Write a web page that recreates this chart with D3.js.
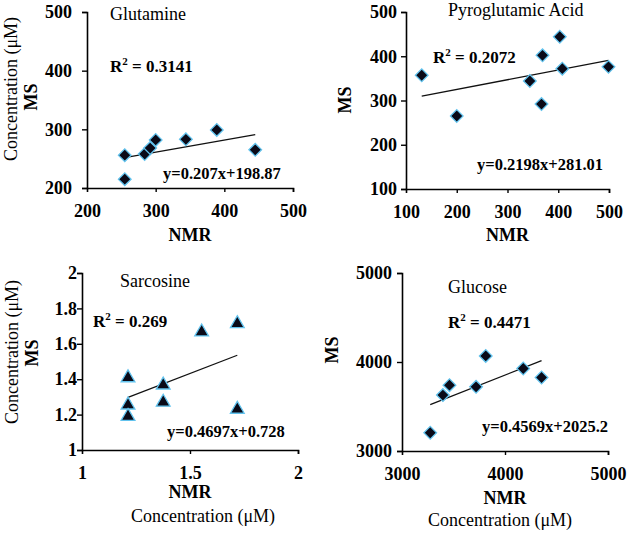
<!DOCTYPE html>
<html><head><meta charset="utf-8">
<script src="https://cdn.jsdelivr.net/npm/d3@7/dist/d3.min.js"></script>
<style>
html,body{margin:0;padding:0;background:#fff;}
svg{display:block;font-family:"Liberation Serif","Times New Roman",serif;}
</style></head>
<body><svg id="c" width="630" height="533"></svg>
<script>
// ---------- data ----------
const panelTitles = ["Glutamine", "Pyroglutamic Acid", "Sarcosine", "Glucose"];
const glutamineNMR = [255, 255, 284, 292, 300, 344, 389, 445];
const glutamineMS  = [256, 215, 258, 268, 282, 283, 299, 265];
const pyroNMR = [131, 200, 344, 367, 369, 403, 408, 499];
const pyroMS  = [357, 265, 344, 292, 402, 444, 372, 376];
const sarcosineNMR = [1.213, 1.213, 1.213, 1.376, 1.376, 1.554, 1.719, 1.719];
const sarcosineMS  = [1.408, 1.254, 1.190, 1.367, 1.270, 1.667, 1.714, 1.230];
const glucoseNMR = [3274, 3397, 3461, 3719, 3813, 4177, 4355];
const glucoseMS  = [3205, 3628, 3740, 3721, 4068, 3927, 3826];
const fitSlopes = [0.207, 0.2198, 0.4697, 0.4569];
const fitIntercepts = [198.87, 281.01, 0.728, 2025.2];
const rSquared = ["0.3141", "0.2072", "0.269", "0.4471"];
const equations = ["y=0.207x+198.87", "y=0.2198x+281.01", "y=0.4697x+0.728", "y=0.4569x+2025.2"];
const xTicks = [[200, 300, 400, 500], [100, 200, 300, 400, 500], [1, 1.5, 2], [3000, 4000, 5000]];
const yTicks = [[200, 300, 400, 500], [100, 200, 300, 400, 500], [1, 1.2, 1.4, 1.6, 1.8, 2], [3000, 4000, 5000]];
const markerShapes = ["diamond", "diamond", "triangle", "diamond"];
const xLabel = "NMR", yLabel = "MS", unitLabel = "Concentration (μM)";

const series = [
  {x: glutamineNMR, y: glutamineMS},
  {x: pyroNMR, y: pyroMS},
  {x: sarcosineNMR, y: sarcosineMS},
  {x: glucoseNMR, y: glucoseMS}
];

// ---------- layout ----------
const layout = [
  {xr:[87,293],  yr:[188,12],  yPad:10, xLblY:241, msX:37,  msY:97,  concV:{x:17,y:89},  concH:null,
   title:[110,20], r2:[110,72], eq:[163,179]},
  {xr:[406,609], yr:[189,12],  yPad:4,  xLblY:241, msX:351, msY:100, concV:null, concH:null,
   title:[448,16], r2:[433,63], eq:[477,170]},
  {xr:[82,298],  yr:[450,273], yPad:0,  xLblY:498, msX:38,  msY:353, concV:{x:18,y:352}, concH:{x:203,y:522},
   title:[120,287], r2:[93,327], eq:[167,437]},
  {xr:[402,608], yr:[451,273], yPad:5,  xLblY:504, msX:338, msY:350, concV:null, concH:{x:500,y:526},
   title:[448,293], r2:[448,328], eq:[482,432]}
];

const svg = d3.select("#c");
const markerFill = "#0a0a18", markerStroke = "#62c3ee";

series.forEach((s, i) => {
  const L = layout[i];
  const xd = d3.extent(xTicks[i]), yd = d3.extent(yTicks[i]);
  const x = d3.scaleLinear().domain(xd).range(L.xr);
  const y = d3.scaleLinear().domain(yd).range(L.yr);
  const g = svg.append("g");

  // axes
  const xa = g.append("g").attr("transform", `translate(0,${L.yr[0]})`)
    .call(d3.axisBottom(x).tickValues(xTicks[i]).tickFormat(d3.format("")).tickSizeOuter(0).tickSize(4).tickPadding(12));
  const ya = g.append("g").attr("transform", `translate(${L.xr[0]},0)`)
    .call(d3.axisLeft(y).tickValues(yTicks[i]).tickFormat(d3.format("")).tickSizeOuter(0).tickSize(5).tickPadding(L.yPad));
  [xa, ya].forEach(a => {
    a.select(".domain").attr("stroke", "#000").attr("stroke-width", 1.6);
    a.selectAll(".tick line").attr("stroke", "#000").attr("stroke-width", 1.4);
    a.selectAll(".tick text").attr("fill", "#000").attr("font-size", 18).attr("font-weight", "bold")
      .attr("font-family", "Liberation Serif, Times New Roman, serif");
  });
  xa.selectAll(".tick").filter(d => d === xd[0]).select("line").remove();

  // trend line
  const x0 = d3.min(s.x), x1 = d3.max(s.x);
  g.append("line")
    .attr("x1", x(x0)).attr("y1", y(fitSlopes[i] * x0 + fitIntercepts[i]))
    .attr("x2", x(x1)).attr("y2", y(fitSlopes[i] * x1 + fitIntercepts[i]))
    .attr("stroke", "#111").attr("stroke-width", 1.3);

  // markers
  const sym = markerShapes[i] === "triangle"
    ? d3.symbol().type(d3.symbolTriangle).size(82)
    : d3.symbol().type(d3.symbolSquare).size(80);
  g.selectAll("path.pt").data(s.x.map((v, k) => [v, s.y[k]])).join("path")
    .attr("class", "pt")
    .attr("d", sym())
    .attr("transform", d => `translate(${x(d[0])},${y(d[1])})` + (markerShapes[i] === "triangle" ? "" : " rotate(45)"))
    .attr("fill", markerFill).attr("stroke", markerStroke).attr("stroke-width", 1.3);

  // texts
  g.append("text").attr("x", L.title[0]).attr("y", L.title[1]).attr("font-size", 18).text(panelTitles[i]);
  const r = g.append("text").attr("x", L.r2[0]).attr("y", L.r2[1]).attr("font-size", 17).attr("font-weight", "bold");
  r.append("tspan").text("R");
  r.append("tspan").attr("font-size", 11).attr("dy", -7).text("2");
  r.append("tspan").attr("dy", 7).text(" = " + rSquared[i]);
  g.append("text").attr("x", L.eq[0]).attr("y", L.eq[1]).attr("font-size", 16.5).attr("font-weight", "bold").text(equations[i]);

  g.append("text").attr("x", (L.xr[0] + L.xr[1]) / 2).attr("y", L.xLblY).attr("text-anchor", "middle")
    .attr("font-size", 18).attr("font-weight", "bold").text(xLabel);
  g.append("text").attr("transform", `translate(${L.msX},${L.msY}) rotate(-90)`).attr("text-anchor", "middle")
    .attr("font-size", 18).attr("font-weight", "bold").text(yLabel);
  if (L.concV) g.append("text").attr("transform", `translate(${L.concV.x},${L.concV.y}) rotate(-90)`)
    .attr("text-anchor", "middle").attr("font-size", 18).text(unitLabel);
  if (L.concH) g.append("text").attr("x", L.concH.x).attr("y", L.concH.y)
    .attr("text-anchor", "middle").attr("font-size", 18).text(unitLabel);
});
</script></body></html>
